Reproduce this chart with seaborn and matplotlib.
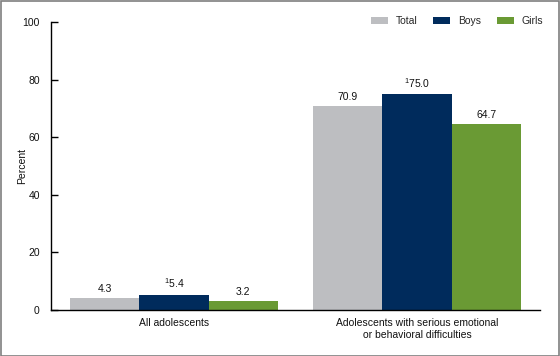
import pandas as pd
import matplotlib
matplotlib.use("Agg")
import matplotlib.pyplot as plt
import seaborn as sns

# data
groups = ["All adolescents", "Adolescents with serious emotional\nor behavioral difficulties"]
series = ["Total", "Boys", "Girls"]
total = [4.3, 70.9]
boys = [5.4, 75.0]
girls = [3.2, 64.7]
# labels with footnote marks
boys_labels = [r"$^{1}$5.4", r"$^{1}$75.0"]
total_labels = ["4.3", "70.9"]
girls_labels = ["3.2", "64.7"]

colors = ["#BDBEC1", "#002B5C", "#6A9A34"]

df = pd.DataFrame({
    "group": groups * 3,
    "sex": ["Total"] * 2 + ["Boys"] * 2 + ["Girls"] * 2,
    "pct": total + boys + girls,
})

sns.set_style("white")
plt.rcParams["font.family"] = ["Liberation Sans", "DejaVu Sans"]
plt.rcParams["mathtext.fontset"] = "custom"
plt.rcParams["mathtext.rm"] = "Liberation Sans"
plt.rcParams["mathtext.it"] = "Liberation Sans"

fig = plt.figure(figsize=(5.6, 3.56), dpi=100)
ax = fig.add_axes([0.091, 0.129, 0.873, 0.809])

sns.barplot(data=df, x="group", y="pct", hue="sex", hue_order=series,
            palette=colors, width=0.855, saturation=1, ax=ax, linewidth=0)

for cont, labs in zip(ax.containers, [total_labels, boys_labels, girls_labels]):
    ax.bar_label(cont, labels=labs, padding=3, fontsize=7.5, color="#111111")

ax.set_ylim(0, 100)
ax.set_xlim(-0.506, 1.506)
ax.set_yticks([0, 20, 40, 60, 80, 100])
ax.tick_params(axis="y", direction="in", length=5, width=1, color="black",
               labelsize=7.5, pad=8, left=True, labelcolor="#111111")
ax.tick_params(axis="x", length=0, labelsize=7.5, pad=6, labelcolor="#111111")
ax.set_xlabel("")
ax.set_ylabel("Percent", fontsize=7.5, color="#111111")
ax.yaxis.set_label_coords(-0.048, 0.5)
for s in ["top", "right"]:
    ax.spines[s].set_visible(False)
for s in ["left", "bottom"]:
    ax.spines[s].set_color("black")
    ax.spines[s].set_linewidth(1)

sns.move_legend(ax, "center right", bbox_to_anchor=(543 / 560, 1 - 21 / 356),
                bbox_transform=fig.transFigure, ncol=3, frameon=False, title=None,
                fontsize=7.5, handlelength=1.65, handleheight=0.68,
                columnspacing=1.55, handletextpad=0.7, borderpad=0,
                borderaxespad=0)

# gray border around the figure
fig.patches.append(plt.Rectangle((0.001, 0.001), 0.997, 0.996, transform=fig.transFigure,
                                 fill=False, edgecolor="#7f7f7f", linewidth=1.2))

fig.savefig("out.png", dpi=100)
